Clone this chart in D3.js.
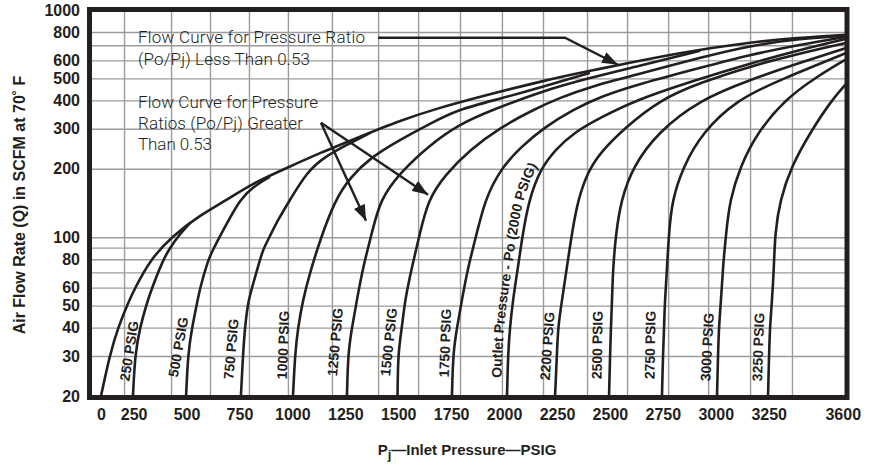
<!DOCTYPE html>
<html>
<head>
<meta charset="utf-8">
<script src="https://cdnjs.cloudflare.com/ajax/libs/d3/7.8.5/d3.min.js"></script>
<style>
  body { margin: 0; background: #fff; }
  svg { display: block; }
  .tick-label { font-family: "Liberation Sans", Arial, sans-serif; font-weight: bold; font-size: 16px; fill: #231f20; }
  .title { font-family: "Liberation Sans", Arial, sans-serif; font-weight: bold; fill: #231f20; }
  .note { font-family: Roboto, "Liberation Sans", sans-serif; font-weight: 300; font-size: 17px; fill: #231f20; }
  .curve-label { font-family: "Liberation Sans", Arial, sans-serif; font-weight: bold; font-size: 14px; fill: #231f20; }
</style>
</head>
<body>
<div id="chart"></div>
<script>
// inlet pressure (PSIG), air flow (SCFM)
var flow0 = [[0,20],[82,30.6],[155,40],[224,51.4],[257,59.8],[328,79.4],[431,101],[564,125],[691,146],[814,173],[975,202],[1131,235],[1320,277],[1508,326],[1664,364],[1886,415],[2203,493],[2406,540],[2548,574],[2831,649],[3148,718],[3384,755],[3620,778]];
var flow250 = [[247,20],[257,30.6],[280,40],[313,51.4],[337,59.8],[389,79.4],[422,89.7],[460,101],[517,115.6]];
var flow500 = [[498,20],[507,30.6],[526,40],[550,51.4],[564,59.8],[602,79.4],[625,88],[658,101],[705,121.7],[753,146],[814,166.6],[894,184.4]];
var flow750 = [[757,20],[767,30.6],[776,40],[790,51.4],[809,59.8],[847,79.4],[861,88],[894,101],[932,119.3],[989,146],[1069,194],[1154,226],[1249,252.6],[1367,288]];
var flow1000 = [[1003,20],[1013,30.9],[1027,40.2],[1050,53],[1083,69.7],[1131,97.3],[1202,146],[1272,182.6],[1367,223.6],[1508,268.5],[1650,315.8],[1778,363.9],[1981,406.8],[2170,454.9],[2406,529.6]];
var flow1250 = [[1258,20],[1263,30.9],[1282,40.2],[1305,53],[1334,74],[1376,104.5],[1414,146],[1508,192.1],[1650,255.2],[1792,315.8],[1948,363.9],[2170,436.8],[2406,503.5],[2642,568.6],[2926,662]];
var flow1500 = [[1497,20],[1499,30.9],[1518,40.2],[1532,53],[1565,74],[1603,104.5],[1641,146],[1721,188.2],[1839,242.7],[1981,303.2],[2137,363.9],[2264,411],[2406,459.5],[2642,524],[2926,617],[3162,697],[3398,748],[3620,771]];
var flow1750 = [[1754,20],[1759,30.9],[1778,40.2],[1801,53],[1830,74],[1872,104.5],[1910,146],[1981,198],[2075,247.6],[2194,306.2],[2326,363.9],[2453,415],[2642,473.7],[2926,557],[3162,636],[3398,704],[3620,763]];
var flow2000 = [[2014,20],[2019,30.9],[2028,40.2],[2042,53],[2066,74],[2089,104.5],[2118,146],[2170,198],[2241,242.7],[2335,291],[2453,335.4],[2628,403],[2878,483],[3162,582],[3398,668],[3620,748]];
var flow2200 = [[2241,20],[2250,30.9],[2255,40.2],[2274,53],[2297,74],[2321,104.5],[2349,146],[2396,194],[2453,235.2],[2571,303.2],[2737,403],[2926,478.5],[3162,565],[3398,645],[3620,718]];
var flow2500 = [[2496,20],[2501,30.9],[2505,40.2],[2510,53],[2515,74],[2529,104.5],[2553,146],[2609,204],[2723,288],[2926,403],[3162,493],[3398,586],[3620,682]];
var flow2750 = [[2746,20],[2751,30.9],[2756,40.2],[2760,53],[2770,74],[2779,104.5],[2794,146],[2846,204],[2935,288],[3100,403],[3304,493],[3620,649]];
var flow3000 = [[3006,20],[3011,30.9],[3015,40.2],[3025,53],[3034,74],[3049,104.5],[3067,146],[3115,204],[3195,288],[3327,403],[3469,503.5],[3620,610]];
var flow3250 = [[3247,20],[3252,30.9],[3256,40.2],[3266,53],[3275,74],[3280,104.5],[3304,146],[3356,204],[3445,288],[3549,403],[3620,478]];

var curves = [flow0, flow250, flow500, flow750, flow1000, flow1250, flow1500, flow1750, flow2000, flow2200, flow2500, flow2750, flow3000, flow3250];
var curveNames = ["", "250 PSIG", "500 PSIG", "750 PSIG", "1000 PSIG", "1250 PSIG", "1500 PSIG", "1750 PSIG", "Outlet Pressure - Po (2000 PSIG)", "2200 PSIG", "2500 PSIG", "2750 PSIG", "3000 PSIG", "3250 PSIG"];

// axes
var xTicks = [0, 250, 500, 750, 1000, 1250, 1500, 1750, 2000, 2250, 2500, 2750, 3000, 3250, 3600];
var xGrid = [205, 427, 611, 795, 979, 1187, 1405, 1594, 1792, 1990, 2184, 2392, 2581, 2775, 2964, 3162, 3360];
var yTicks = [20, 30, 40, 50, 60, 80, 100, 200, 300, 400, 500, 600, 800, 1000];
var yGrid = [30, 40, 50, 60, 70, 80, 90, 100, 200, 300, 400, 500, 600, 700, 800];

// annotation texts
var noteLess = ["Flow Curve for Pressure Ratio", "(Po/Pj) Less Than 0.53"];
var noteGreater = ["Flow Curve for Pressure", "Ratios (Po/Pj) Greater", "Than 0.53"];

var width = 874, height = 465;
var frame = {left: 89.5, right: 847, top: 9.5, bottom: 397.5};

var svg = d3.select("#chart").append("svg")
    .attr("width", width)
    .attr("height", height);

var x = d3.scaleLinear().domain([0, 200, 3620]).range([101, 123, 847]);
var y = d3.scaleLog().domain([20, 1000]).range([396, 10]);

// arrow head
var defs = svg.append("defs");
defs.append("marker")
    .attr("id", "head")
    .attr("markerUnits", "userSpaceOnUse")
    .attr("markerWidth", 17).attr("markerHeight", 12)
    .attr("refX", 16).attr("refY", 6)
    .attr("orient", "auto")
  .append("path")
    .attr("d", "M0,0L16,6L0,12Z")
    .attr("fill", "#231f20");

// grid
var gx = svg.append("g")
    .attr("transform", "translate(0," + frame.bottom + ")")
    .call(d3.axisBottom(x).tickValues(xGrid).tickSize(-(frame.bottom - frame.top)).tickFormat(""));
var gy = svg.append("g")
    .attr("transform", "translate(" + frame.left + ",0)")
    .call(d3.axisLeft(y).tickValues(yGrid).tickSize(-(frame.right - frame.left)).tickFormat(""));
[gx, gy].forEach(function(g) {
    g.select(".domain").remove();
    g.selectAll("line").attr("stroke", "#9b9b9b").attr("stroke-width", 1.4);
});

// curves, smoothed through the read points
var line = d3.line()
    .x(function(d) { return x(d[0]); })
    .y(function(d) { return y(d[1]); })
    .curve(d3.curveBasis);

svg.append("g").selectAll("path")
    .data(curves)
    .enter().append("path")
    .attr("d", line)
    .attr("fill", "none")
    .attr("stroke", "#231f20")
    .attr("stroke-width", 2.6);

// frame
svg.append("rect")
    .attr("x", frame.left).attr("y", frame.top)
    .attr("width", frame.right - frame.left)
    .attr("height", frame.bottom - frame.top)
    .attr("fill", "none")
    .attr("stroke", "#231f20")
    .attr("stroke-width", 5);

// tick labels
var ax = svg.append("g")
    .attr("transform", "translate(0," + y(20) + ")")
    .call(d3.axisBottom(x).tickValues(xTicks).tickSize(0).tickPadding(12.5).tickFormat(d3.format("d")));
var ay = svg.append("g")
    .attr("transform", "translate(" + frame.left + ",0)")
    .call(d3.axisLeft(y).tickValues(yTicks).tickSize(0).tickPadding(9.5).tickFormat(d3.format("d")));
[ax, ay].forEach(function(g) {
    g.select(".domain").remove();
    g.selectAll("text").attr("class", "tick-label");
});

// axis titles
svg.append("text")
    .attr("class", "title")
    .attr("font-size", 16)
    .attr("text-anchor", "middle")
    .attr("transform", "translate(24.5,205) rotate(-90)")
    .text("Air Flow Rate (Q) in SCFM at 70\u02DA F");

var xt = svg.append("text")
    .attr("class", "title")
    .attr("font-size", 15)
    .attr("text-anchor", "middle")
    .attr("x", 467).attr("y", 455);
xt.append("tspan").text("P");
xt.append("tspan").attr("dy", 4).attr("font-size", 13).text("j");
xt.append("tspan").attr("dy", -4).text("\u2014Inlet Pressure\u2014PSIG");

// curve labels, placed left of each curve foot: [dx, centre y, angle]
var labelPlace = [null, [-4, 351, -81], [-8, 347, -80], [-10, 349, -85], [-10, 345, -88], [-12, 342, -85], [-9, 342, -84], [-7, 343, -88], null,
    [-8, 346, -86], [-12, 345, -89], [-12, 345, -89], [-10, 347, -87], [-10, 347, -88]];
curves.forEach(function(c, i) {
    var p = labelPlace[i];
    if (!p) return;
    var cx = x(c[0][0]) + p[0];
    svg.append("text")
        .attr("class", "curve-label")
        .attr("text-anchor", "middle")
        .attr("dy", "0.36em")
        .attr("transform", "translate(" + cx + "," + p[1] + ") rotate(" + p[2] + ")")
        .text(curveNames[i]);
});

// outlet pressure label runs along the 2000 PSIG curve
defs.append("path")
    .attr("id", "outletPath")
    .attr("d", d3.line()
        .x(function(d) { return x(d[0]) - 6; })
        .y(function(d) { return y(d[1]); })
        .curve(d3.curveBasis)(flow2000.slice(0, 10)));
svg.append("text")
    .attr("class", "curve-label")
  .append("textPath")
    .attr("href", "#outletPath")
    .attr("startOffset", 18)
    .text(curveNames[8]);

// notes, each line stretched to the width it has in the original
var lessWidths = [227, 172];
var greaterWidths = [180, 165, 74];
noteLess.forEach(function(t, i) {
    svg.append("text").attr("class", "note")
        .attr("x", 138).attr("y", 43 + i * 21.5)
        .attr("textLength", lessWidths[i]).attr("lengthAdjust", "spacing")
        .text(t);
});
noteGreater.forEach(function(t, i) {
    svg.append("text").attr("class", "note")
        .attr("x", 138).attr("y", 108 + i * 21)
        .attr("textLength", greaterWidths[i]).attr("lengthAdjust", "spacing")
        .text(t);
});

// leader arrows (inlet, flow)
var leaders = [
    [[1405, 755], [2288, 755], [2538, 574]],
    [[1135, 319], [1348, 118]],
    [[1135, 319], [1641, 153.6]]
];
var straight = d3.line()
    .x(function(d) { return x(d[0]); })
    .y(function(d) { return y(d[1]); });
svg.append("g").selectAll("path")
    .data(leaders)
    .enter().append("path")
    .attr("d", straight)
    .attr("fill", "none")
    .attr("stroke", "#231f20")
    .attr("stroke-width", 2.4)
    .attr("marker-end", "url(#head)");
</script>
</body>
</html>
